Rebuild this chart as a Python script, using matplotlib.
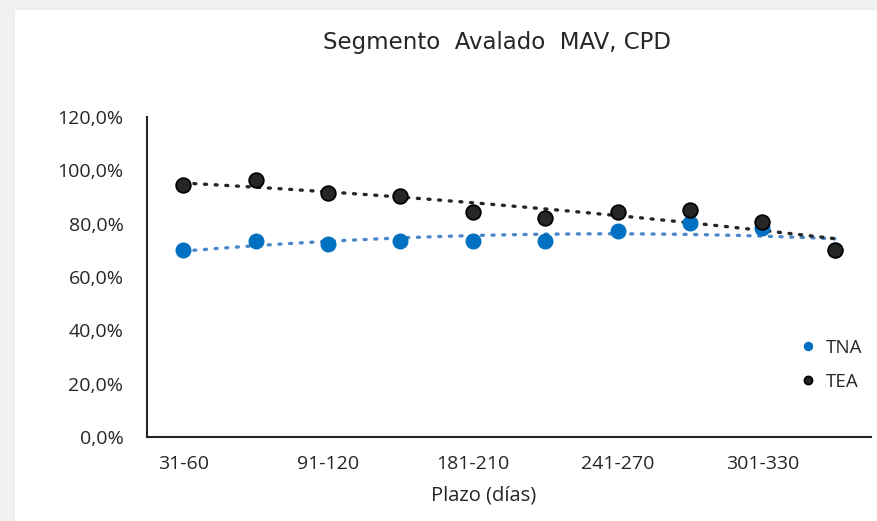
import numpy as np
import matplotlib
matplotlib.use('Agg')
import matplotlib.pyplot as plt
from matplotlib.patches import Rectangle
from matplotlib.ticker import FuncFormatter

# Datos del gráfico
plazos = ['31-60', '61-90', '91-120', '121-180', '181-210',
          '211-240', '241-270', '271-300', '301-330', '331-360']
tna = [70.0, 73.6, 72.4, 73.6, 73.6, 73.6, 77.2, 80.4, 78.5, 70.0]
tea = [94.5, 96.4, 91.5, 90.4, 84.4, 82.0, 84.4, 85.0, 80.7, 70.1]

fig = plt.figure(figsize=(8.78, 5.21), dpi=100)
fig.patch.set_facecolor('#f0f0f0')
# área blanca del gráfico
fig.add_artist(Rectangle((15 / 878, 0), 1, 1 - 10 / 521, transform=fig.transFigure,
                         facecolor='white', edgecolor='none', zorder=0))

ax = fig.add_axes([147 / 878, 1 - 437 / 521, 724 / 878, 320 / 521])
ax.set_facecolor('none')

x = np.arange(len(plazos))

# Líneas de tendencia (polinómicas de grado 2, como en Excel)
xs = np.linspace(0, len(plazos) - 1, 200)
p_tna = np.polyfit(x, tna, 2)
p_tea = np.polyfit(x, tea, 2)
ax.plot(xs, np.polyval(p_tna, xs), ls=(0, (0.6, 2.6)), color='#4a86c8', lw=2.4,
        dash_capstyle='round', zorder=2)
ax.plot(xs, np.polyval(p_tea, xs), ls=(0, (0.6, 2.6)), color='#262626', lw=2.4,
        dash_capstyle='round', zorder=2)

# Puntos
ax.plot(x, tna, 'o', color='#0070c0', ms=10.5, mec='#0070c0', zorder=3, label='TNA')
ax.plot(x, tea, 'o', color='#262626', ms=10.5, mec='black', mew=1.3, zorder=4, label='TEA')

ax.set_xlim(-0.5, len(plazos) - 0.5)
ax.set_ylim(0, 120)
ax.set_yticks(np.arange(0, 121, 20))
ax.yaxis.set_major_formatter(FuncFormatter(lambda v, p: f'{v:.1f}%'.replace('.', ',')))
ax.set_xticks(x[::2])
ax.set_xticklabels(plazos[::2])

for s in ['top', 'right']:
    ax.spines[s].set_visible(False)
for s in ['left', 'bottom']:
    ax.spines[s].set_color('#262626')
    ax.spines[s].set_linewidth(1.5)

ax.tick_params(axis='both', length=0, labelsize=14, labelcolor='#262626')
ax.tick_params(axis='y', pad=17)
ax.tick_params(axis='x', pad=13)
for lbl in ax.get_xticklabels() + ax.get_yticklabels():
    lbl.set_family('Open Sans')

ax.set_xlabel('Plazo (días)', family='Open Sans', fontsize=14.5, color='#262626')
ax.xaxis.set_label_coords((484 - 147) / 724, (437 - 496) / 320)
ax.xaxis.label.set_va('center')

fig.text(497 / 878, 1 - 42 / 521, 'Segmento  Avalado  MAV, CPD', ha='center', va='center',
         family='DejaVu Sans', fontsize=16.5, color='#262626')

leg = fig.legend(handles=ax.get_lines()[2:], loc='upper left',
                 bbox_to_anchor=(802 / 878, 1 - 339 / 521),
                 frameon=False, handlelength=0.6, handletextpad=0.7, markerscale=0.55,
                 labelspacing=0.85, borderaxespad=0, borderpad=0,
                 prop={'family': 'Open Sans', 'size': 13.5})
for t in leg.get_texts():
    t.set_color('#262626')

fig.savefig('out.png', dpi=100)
